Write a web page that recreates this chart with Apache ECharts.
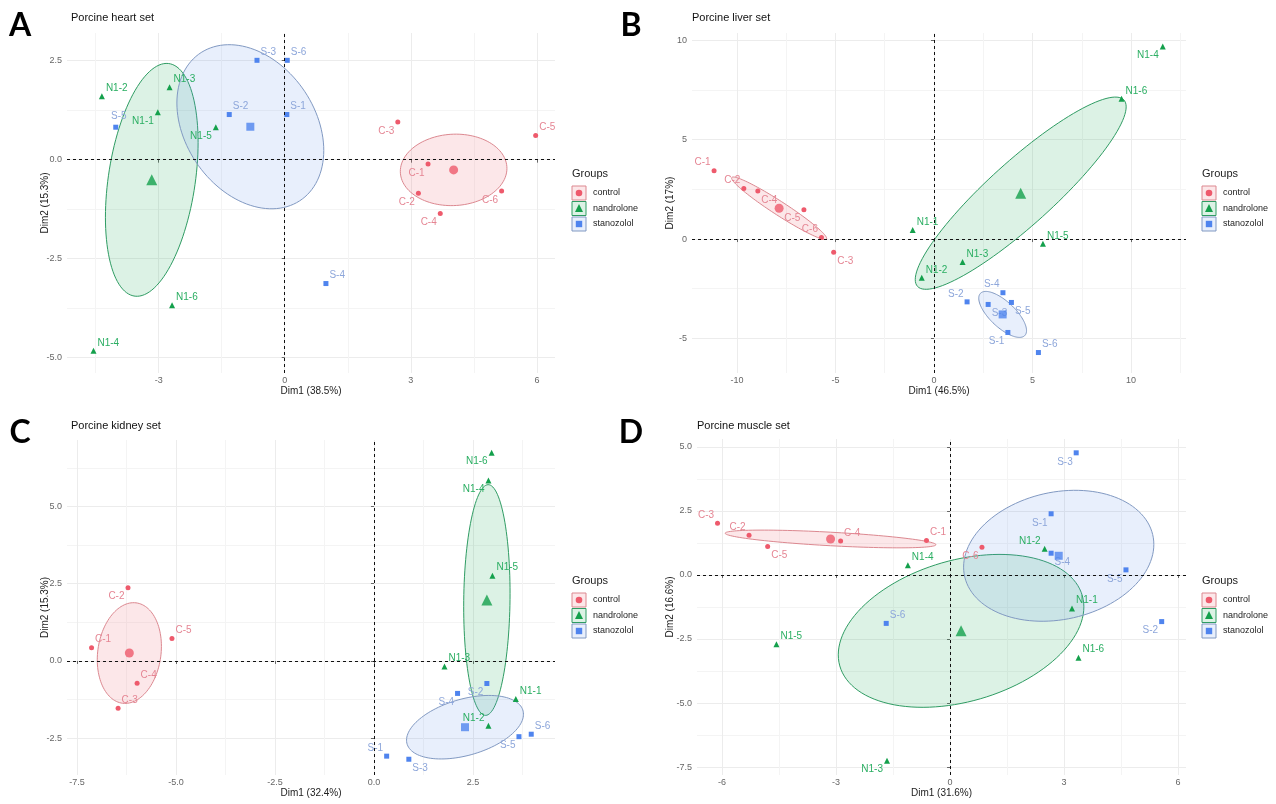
<!DOCTYPE html>
<html>
<head>
<meta charset="utf-8">
<script src="https://cdn.jsdelivr.net/npm/echarts@6/dist/echarts.min.js"></script>
<style>
  html, body { margin: 0; padding: 0; background: #fff; }
  #chart { width: 1276px; height: 804px; }
</style>
</head>
<body>
<div id="chart"></div>
<script>
// ---- Groups ----
const groups = ['control', 'nandrolone', 'stanozolol'];

// ---- Porcine heart set: PCA individual scores ----
const heartSamples = ['C-1', 'C-2', 'C-3', 'C-4', 'C-5', 'C-6', 'N1-1', 'N1-2', 'N1-3', 'N1-4', 'N1-5', 'N1-6', 'S-1', 'S-2', 'S-3', 'S-4', 'S-5', 'S-6'];
const heartDim1 = [3.41, 3.18, 2.69, 3.70, 5.97, 5.16, -3.02, -4.35, -2.74, -4.55, -1.64, -2.68, 0.05, -1.32, -0.66, 0.98, -4.02, 0.06];
const heartDim2 = [-0.11, -0.85, 0.95, -1.36, 0.61, -0.79, 1.20, 1.60, 1.83, -4.83, 0.82, -3.68, 1.14, 1.14, 2.51, -3.13, 0.82, 2.51];
const heartAxisTitles = ['Dim1 (38.5%)', 'Dim2 (15.3%)'];
const heartXTicks = [-3, 0, 3, 6];
const heartYTicks = [-5, -2.5, 0, 2.5];

// ---- Porcine liver set ----
const liverSamples = ['C-1', 'C-2', 'C-3', 'C-4', 'C-5', 'C-6', 'N1-1', 'N1-2', 'N1-3', 'N1-4', 'N1-5', 'N1-6', 'S-1', 'S-2', 'S-3', 'S-4', 'S-5', 'S-6'];
const liverDim1 = [-11.16, -9.65, -5.09, -8.94, -6.60, -5.71, -1.08, -0.62, 1.45, 11.61, 5.53, 9.52, 3.75, 1.68, 2.75, 3.50, 3.93, 5.30];
const liverDim2 = [3.44, 2.55, -0.66, 2.42, 1.48, 0.08, 0.45, -1.95, -1.16, 9.69, -0.24, 7.06, -4.70, -3.16, -3.29, -2.70, -3.19, -5.71];
const liverAxisTitles = ['Dim1 (46.5%)', 'Dim2 (17%)'];
const liverXTicks = [-10, -5, 0, 5, 10];
const liverYTicks = [-5, 0, 5, 10];

// ---- Porcine kidney set ----
const kidneySamples = ['C-1', 'C-2', 'C-3', 'C-4', 'C-5', 'N1-1', 'N1-2', 'N1-3', 'N1-4', 'N1-5', 'N1-6', 'S-1', 'S-2', 'S-3', 'S-4', 'S-5', 'S-6'];
const kidneyDim1 = [-7.13, -6.21, -6.46, -5.98, -5.10, 3.58, 2.89, 1.78, 2.89, 2.99, 2.97, 0.32, 2.85, 0.88, 2.11, 3.66, 3.97];
const kidneyDim2 = [0.43, 2.37, -1.53, -0.72, 0.73, -1.23, -2.10, -0.18, 5.84, 2.76, 6.74, -3.08, -0.73, -3.18, -1.05, -2.45, -2.37];
const kidneyAxisTitles = ['Dim1 (32.4%)', 'Dim2 (15.3%)'];
const kidneyXTicks = [-7.5, -5, -2.5, 0, 2.5];
const kidneyYTicks = [-2.5, 0, 2.5, 5];

// ---- Porcine muscle set ----
const muscleSamples = ['C-1', 'C-2', 'C-3', 'C-4', 'C-5', 'C-6', 'N1-1', 'N1-2', 'N1-3', 'N1-4', 'N1-5', 'N1-6', 'S-1', 'S-2', 'S-3', 'S-4', 'S-5', 'S-6'];
const muscleDim1 = [-0.62, -5.29, -6.12, -2.88, -4.80, 0.84, 3.21, 2.49, -1.66, -1.11, -4.57, 3.38, 2.66, 5.57, 3.32, 2.66, 4.63, -1.68];
const muscleDim2 = [1.35, 1.55, 2.02, 1.33, 1.11, 1.08, -1.31, 1.02, -7.25, 0.38, -2.70, -3.23, 2.39, -1.82, 4.77, 0.85, 0.20, -1.89];
const muscleAxisTitles = ['Dim1 (31.6%)', 'Dim2 (16.6%)'];
const muscleXTicks = [-6, -3, 0, 3, 6];
const muscleYTicks = [-7.5, -5, -2.5, 0, 2.5, 5];

// ---- Label placement around each point (layout only) ----
const heartLabelAt  = ['bl', 'bl', 'bl', 'bl', 'tr', 'bl', 'bl', 'tr', 'tr', 'tr', 'bl', 'tr', 'tr', 'tr', 'tr', 'tr', 't', 'tr'];
const liverLabelAt  = ['tl', 'tl', 'br', 'br', 'bl', 'tl', 'tr', 'tr', 'tr', 'bl', 'tr', 'tr', 'bl', 'tl', 'br', 'tl', 'br', 'tr'];
const kidneyLabelAt = ['tr', 'bl', 'tr', 'tr', 'tr', 'tr', 'tl', 'tr', 'bl', 'tr', 'bl', 'tl', 'bl', 'br', 'bl', 'bl', 'tr'];
const muscleLabelAt = ['tr', 'tl', 'tl', 'tr', 'br', 'bl', 'tr', 'tl', 'bl', 'tr', 'tr', 'tr', 'bl', 'bl', 'bl', 'br', 'bl', 'tr'];

const FONT = '"Liberation Sans", Arial, Helvetica, sans-serif';

const style = {
  control:    { point: '#EE5A6C', label: '#E58593', fill: 'rgba(240,110,125,0.17)', stroke: '#DC8890', symbol: 'circle',   size: 5, big: 9 },
  nandrolone: { point: '#14A04C', label: '#2AAE62', fill: 'rgba(40,175,95,0.16)',   stroke: '#2F9C63', symbol: 'triangle', size: 6, big: 11 },
  stanozolol: { point: '#4F84EE', label: '#8DA6DA', fill: 'rgba(100,150,235,0.15)', stroke: '#8199C2', symbol: 'rect',     size: 5, big: 8 }
};

const placeStyle = {
  tr: { position: 'right', distance: 1, offset: [0, -8] },
  tl: { position: 'left',  distance: 1, offset: [0, -8] },
  br: { position: 'right', distance: 1, offset: [0, 9] },
  bl: { position: 'left',  distance: 1, offset: [0, 9] },
  t:  { position: 'top',   distance: 3, offset: [3, 0] }
};

const panels = [
  { letter: 'A', title: 'Porcine heart set', samples: heartSamples, d1: heartDim1, d2: heartDim2, labelAt: heartLabelAt,
    axisTitles: heartAxisTitles, xTicks: heartXTicks, yTicks: heartYTicks,
    xRange: [-5.18, 6.43], yRange: [-5.39, 3.2],
    box: [67, 33, 488, 340], yNameGap: 17, legendAt: [572, 174], letterAt: [20, 26], titleAt: [71, 18] },
  { letter: 'B', title: 'Porcine liver set', samples: liverSamples, d1: liverDim1, d2: liverDim2, labelAt: liverLabelAt,
    axisTitles: liverAxisTitles, xTicks: liverXTicks, yTicks: liverYTicks,
    xRange: [-12.28, 12.79], yRange: [-6.74, 10.37],
    box: [692, 33, 494, 340], yNameGap: 17, legendAt: [1202, 174], letterAt: [631, 26], titleAt: [692, 18] },
  { letter: 'C', title: 'Porcine kidney set', samples: kidneySamples, d1: kidneyDim1, d2: kidneyDim2, labelAt: kidneyLabelAt,
    axisTitles: kidneyAxisTitles, xTicks: kidneyXTicks, yTicks: kidneyYTicks,
    xRange: [-7.75, 4.57], yRange: [-3.69, 7.15],
    box: [67, 440, 488, 335], yNameGap: 17, legendAt: [572, 581], letterAt: [20, 433], titleAt: [71, 426] },
  { letter: 'D', title: 'Porcine muscle set', samples: muscleSamples, d1: muscleDim1, d2: muscleDim2, labelAt: muscleLabelAt,
    axisTitles: muscleAxisTitles, xTicks: muscleXTicks, yTicks: muscleYTicks,
    xRange: [-6.66, 6.21], yRange: [-7.81, 5.31],
    box: [697, 439, 489, 336], yNameGap: 22, legendAt: [1202, 581], letterAt: [631, 433], titleAt: [697, 426] }
];

function groupOf(name) {
  if (name.startsWith('C')) return 'control';
  if (name.startsWith('N')) return 'nandrolone';
  return 'stanozolol';
}

// 95% confidence ellipse of a group mean (chi-square, 2 df)
function ellipseOf(xs, ys) {
  const n = xs.length;
  const mx = xs.reduce((a, b) => a + b, 0) / n;
  const my = ys.reduce((a, b) => a + b, 0) / n;
  let sxx = 0, syy = 0, sxy = 0;
  for (let k = 0; k < n; k++) {
    sxx += (xs[k] - mx) ** 2; syy += (ys[k] - my) ** 2; sxy += (xs[k] - mx) * (ys[k] - my);
  }
  sxx /= (n - 1) * n; syy /= (n - 1) * n; sxy /= (n - 1) * n;
  const l11 = Math.sqrt(sxx), l21 = sxy / l11, l22 = Math.sqrt(Math.max(syy - l21 * l21, 0));
  return { mx, my, l11, l21, l22, r: Math.sqrt(5.991464547) };
}

function minorOf(ticks, range) {
  const step = ticks[1] - ticks[0];
  const ext = [ticks[0] - step, ...ticks, ticks[ticks.length - 1] + step];
  const out = [];
  for (let k = 0; k < ext.length - 1; k++) {
    const m = (ext[k] + ext[k + 1]) / 2;
    if (m > range[0] && m < range[1]) out.push(m);
  }
  return out;
}

function axes(dir, i, ticks, range, name, gap) {
  const dec = ticks.some(v => !Number.isInteger(v)) ? 1 : 0;
  const major = {
    type: 'value', gridIndex: i, min: range[0], max: range[1],
    position: dir === 'x' ? 'bottom' : 'left',
    axisLine: { show: false },
    axisTick: { show: true, length: 3, customValues: ticks, lineStyle: { color: '#666', width: 1 } },
    axisLabel: { customValues: ticks, formatter: v => (Math.abs(v) < 1e-9 ? 0 : v).toFixed(dec),
                 color: '#666', fontSize: 9, fontFamily: FONT, margin: dir === 'x' ? 3 : 5 },
    splitLine: { show: true, lineStyle: { color: '#ECECEC', width: 1 } },
    name: name, nameLocation: 'middle', nameGap: dir === 'x' ? 13 : gap, nameMoveOverlap: false,
    nameTextStyle: { color: '#222', fontSize: 10, fontFamily: FONT }
  };
  const minor = {
    type: 'value', gridIndex: i, min: range[0], max: range[1],
    position: dir === 'x' ? 'bottom' : 'left',
    axisLine: { show: false },
    axisTick: { show: false, customValues: minorOf(ticks, range) },
    axisLabel: { show: false },
    splitLine: { show: true, lineStyle: { color: '#F4F4F4', width: 1 } }
  };
  return [major, minor];
}

const option = {
  animation: false,
  backgroundColor: '#fff',
  textStyle: { fontFamily: FONT },
  grid: [], xAxis: [], yAxis: [], series: [], graphic: []
};

panels.forEach((p, i) => {
  option.grid.push({ left: p.box[0], top: p.box[1], width: p.box[2], height: p.box[3], outerBoundsMode: 'none' });
  option.xAxis.push(...axes('x', i, p.xTicks, p.xRange, p.axisTitles[0], 0));
  option.yAxis.push(...axes('y', i, p.yTicks, p.yRange, p.axisTitles[1], p.yNameGap));
  const ax = { xAxisIndex: 2 * i, yAxisIndex: 2 * i };

  // group statistics
  const stats = groups.map(g => {
    const xs = [], ys = [];
    p.samples.forEach((s, k) => { if (groupOf(s) === g) { xs.push(p.d1[k]); ys.push(p.d2[k]); } });
    return ellipseOf(xs, ys);
  });

  // confidence ellipses
  option.series.push({
    type: 'custom', ...ax, z: 1, silent: true, clip: true,
    data: stats.map((e, gi) => [e.mx, e.my, gi]),
    encode: { x: 0, y: 1 },
    renderItem: (params, api) => {
      const e = stats[params.dataIndex];
      const st = style[groups[params.dataIndex]];
      const pts = [];
      for (let k = 0; k < 120; k++) {
        const t = (k / 120) * 2 * Math.PI;
        const c = Math.cos(t), s = Math.sin(t);
        pts.push(api.coord([e.mx + e.r * e.l11 * c, e.my + e.r * (e.l21 * c + e.l22 * s)]));
      }
      return { type: 'polygon', shape: { points: pts }, style: { fill: st.fill, stroke: st.stroke, lineWidth: 1 } };
    }
  });

  groups.forEach((g, gi) => {
    const st = style[g];
    const data = [];
    p.samples.forEach((s, k) => {
      if (groupOf(s) !== g) return;
      const pl = placeStyle[p.labelAt[k]];
      data.push({ name: s, value: [p.d1[k], p.d2[k]],
        label: { show: true, position: pl.position, distance: pl.distance, offset: pl.offset } });
    });
    const series = {
      type: 'scatter', ...ax, z: 3, silent: true,
      symbol: st.symbol, symbolSize: st.size,
      itemStyle: { color: st.point, opacity: 1 },
      label: { show: true, formatter: '{b}', color: st.label, fontSize: 10, fontFamily: FONT },
      data: data
    };
    if (gi === 0) {
      series.markLine = {
        silent: true, symbol: 'none', label: { show: false }, animation: false,
        lineStyle: { color: '#111', type: [3, 3], width: 1 },
        data: [{ xAxis: 0 }, { yAxis: 0 }]
      };
    }
    option.series.push(series);
    // group centroid
    option.series.push({
      type: 'scatter', ...ax, z: 4, silent: true,
      symbol: st.symbol, symbolSize: st.big,
      itemStyle: { color: st.point },
      data: [[stats[gi].mx, stats[gi].my]]
    });
  });

  // panel letter and title
  option.graphic.push({
    type: 'text', x: p.letterAt[0], y: p.letterAt[1],
    style: { text: p.letter, font: 'bold 32px Lato, "Open Sans", sans-serif', fill: '#000', align: 'center', verticalAlign: 'middle' }
  });
  option.graphic.push({
    type: 'text', x: p.titleAt[0], y: p.titleAt[1],
    style: { text: p.title, font: '11px ' + FONT, fill: '#111', align: 'left', verticalAlign: 'middle' }
  });

  // legend
  const lx = p.legendAt[0], ly = p.legendAt[1];
  const children = [{
    type: 'text', x: 0, y: 0,
    style: { text: 'Groups', font: '11px ' + FONT, fill: '#222', align: 'left', verticalAlign: 'middle' }
  }];
  groups.forEach((g, gi) => {
    const st = style[g];
    const cy = 19 + gi * 15.5;
    children.push({ type: 'rect', shape: { x: 0, y: cy - 7, width: 14, height: 14 },
      style: { fill: st.fill, stroke: st.stroke, lineWidth: 1 } });
    let mark;
    if (st.symbol === 'circle') {
      mark = { type: 'circle', shape: { cx: 7, cy: cy, r: 3.3 }, style: { fill: st.point } };
    } else if (st.symbol === 'triangle') {
      mark = { type: 'polygon', shape: { points: [[7, cy - 4.5], [11, cy + 3.5], [3, cy + 3.5]] }, style: { fill: st.point } };
    } else {
      mark = { type: 'rect', shape: { x: 3.8, y: cy - 3.2, width: 6.4, height: 6.4 }, style: { fill: st.point } };
    }
    children.push(mark);
    children.push({ type: 'text', x: 21, y: cy,
      style: { text: g, font: '9px ' + FONT, fill: '#222', align: 'left', verticalAlign: 'middle' } });
  });
  option.graphic.push({ type: 'group', x: lx, y: ly, children: children });
});

const chart = echarts.init(document.getElementById('chart'), null, { renderer: 'canvas' });
chart.setOption(option);
</script>
</body>
</html>
